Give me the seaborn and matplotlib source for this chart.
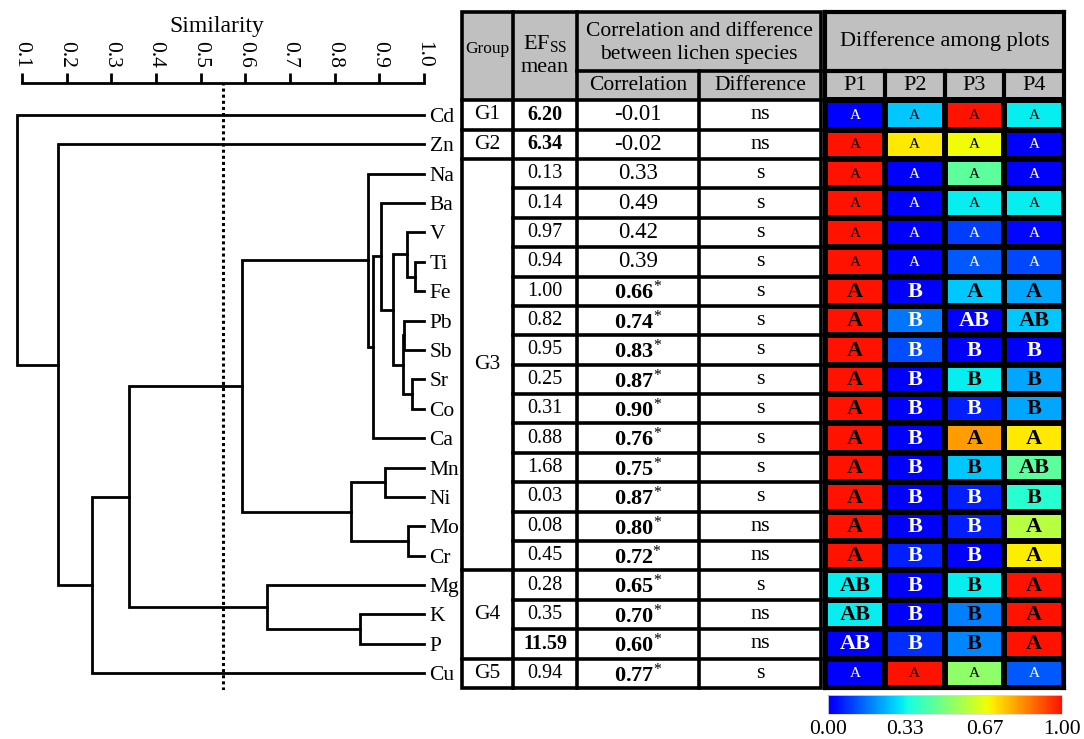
import numpy as np
import pandas as pd
import matplotlib
matplotlib.use('Agg')
import matplotlib.pyplot as plt
import seaborn as sns
from matplotlib.colors import LinearSegmentedColormap
from matplotlib.patches import Rectangle

plt.rcParams['font.family'] = ['Liberation Serif', 'DejaVu Serif']
plt.rcParams['mathtext.fontset'] = 'custom'
plt.rcParams['mathtext.rm'] = 'Liberation Serif'
plt.rcParams['mathtext.it'] = 'Liberation Serif:italic'
plt.rcParams['mathtext.bf'] = 'Liberation Serif:bold'

# ---------------- data ----------------
elements = ['Cd', 'Zn', 'Na', 'Ba', 'V', 'Ti', 'Fe', 'Pb', 'Sb', 'Sr',
            'Co', 'Ca', 'Mn', 'Ni', 'Mo', 'Cr', 'Mg', 'K', 'P', 'Cu']

# dendrogram merges (cluster ids c0, c1, ... in merge order)
merge_a = ['Ti', 'V', 'Sr', 'Pb', 'c3', 'c1', 'Ba', 'c6', 'Na', 'Mn',
           'Mo', 'c9', 'c8', 'K', 'Mg', 'c12', 'c15', 'Zn', 'Cd']
merge_b = ['Fe', 'c0', 'Co', 'Sb', 'c2', 'c4', 'c5', 'Ca', 'c7', 'Ni',
           'Cr', 'c10', 'c11', 'P', 'c13', 'c14', 'Cu', 'c16', 'c17']
merge_sim = [0.980, 0.962, 0.973, 0.955, 0.953, 0.931, 0.904, 0.886, 0.875, 0.913,
             0.964, 0.837, 0.592, 0.857, 0.648, 0.340, 0.257, 0.181, 0.089]
cut_similarity = 0.55
sim_ticks = [0.1, 0.2, 0.3, 0.4, 0.5, 0.6, 0.7, 0.8, 0.9, 1.0]

group_names = ['G1', 'G2', 'G3', 'G4', 'G5']
group_sizes = [1, 1, 14, 3, 1]
ef_mean = [6.20, 6.34, 0.13, 0.14, 0.97, 0.94, 1.00, 0.82, 0.95, 0.25,
           0.31, 0.88, 1.68, 0.03, 0.08, 0.45, 0.28, 0.35, 11.59, 0.94]
correlation = [-0.01, -0.02, 0.33, 0.49, 0.42, 0.39, 0.66, 0.74, 0.83, 0.87,
               0.90, 0.76, 0.75, 0.87, 0.80, 0.72, 0.65, 0.70, 0.60, 0.77]
corr_significant = [False] * 6 + [True] * 14
difference = ['ns', 'ns', 's', 's', 's', 's', 's', 's', 's', 's',
              's', 's', 's', 's', 'ns', 'ns', 's', 'ns', 'ns', 's']

plots = ['P1', 'P2', 'P3', 'P4']
p1_values = [0.00, 1.00, 1.00, 1.00, 1.00, 1.00, 1.00, 1.00, 1.00, 1.00,
             1.00, 1.00, 1.00, 1.00, 1.00, 1.00, 0.32, 0.32, 0.00, 0.00]
p2_values = [0.27, 0.71, 0.00, 0.00, 0.00, 0.00, 0.00, 0.17, 0.12, 0.00,
             0.01, 0.00, 0.00, 0.01, 0.01, 0.06, 0.01, 0.01, 0.08, 1.00]
p3_values = [1.00, 0.68, 0.45, 0.32, 0.10, 0.13, 0.27, 0.00, 0.00, 0.32,
             0.06, 0.81, 0.27, 0.06, 0.06, 0.00, 0.32, 0.18, 0.19, 0.53]
p4_values = [0.32, 0.00, 0.00, 0.32, 0.03, 0.11, 0.23, 0.27, 0.01, 0.23,
             0.23, 0.71, 0.45, 0.37, 0.59, 0.70, 1.00, 1.00, 1.00, 0.13]
p1_letters = ['A'] * 16 + ['AB', 'AB', 'AB', 'A']
p2_letters = ['A'] * 6 + ['B'] * 13 + ['A']
p3_letters = ['A'] * 7 + ['AB', 'B', 'B', 'B', 'A', 'B', 'B', 'B', 'B', 'B', 'B', 'B', 'A']
p4_letters = ['A'] * 7 + ['AB', 'B', 'B', 'B', 'A', 'AB', 'B', 'A', 'A', 'A', 'A', 'A', 'A']
cbar_ticks = [0.0, 0.33, 0.67, 1.0]
cbar_ticklabels = ['0.00', '0.33', '0.67', '1.00']

# ---------------- layout helpers ----------------
W, H = 1084, 739
fig = plt.figure(figsize=(W / 100, H / 100), dpi=100)


def box(x0, y0, x1, y1):
    return [x0 / W, 1 - y1 / H, (x1 - x0) / W, (y1 - y0) / H]


ROW_TOP, ROW_H = 12, 29.39
TABLE_BOTTOM = ROW_TOP + 23 * ROW_H


def row_at(py):
    return (py - ROW_TOP) / ROW_H - 3


n = len(elements)
leaf_y = {e: i + 0.5 for i, e in enumerate(elements)}

# ---------------- dendrogram ----------------
axd = fig.add_axes(box(10, 83, 424, 690))
px_per_unit = (424 - 22) / 0.9
axd.set_xlim(0.1 - 12 / px_per_unit, 1.0)
axd.set_ylim(row_at(690), row_at(83))

pos = {e: (1.0, leaf_y[e]) for e in elements}
for k, (a, b, s) in enumerate(zip(merge_a, merge_b, merge_sim)):
    xa, ya = pos[a]
    xb, yb = pos[b]
    axd.plot([xa, s, s, xb], [ya, ya, yb, yb], color='black', lw=2.0,
             solid_joinstyle='miter', clip_on=False)
    pos['c%d' % k] = (s, (ya + yb) / 2)

axd.axvline(cut_similarity, color='black', lw=2.2, ls=(0, (1, 1)))

for sp in ['left', 'right', 'bottom']:
    axd.spines[sp].set_visible(False)
axd.spines['top'].set_linewidth(2)
axd.spines['top'].set_bounds(0.1, 1.0)
axd.xaxis.tick_top()
axd.xaxis.set_label_position('top')
axd.set_xticks(sim_ticks)
axd.set_xticklabels(['%.1f' % v for v in sim_ticks], rotation=270)
axd.tick_params(axis='x', length=7, width=2, direction='out', pad=4, labelsize=15.5)
axd.set_xlabel('Similarity', fontsize=17, labelpad=6)
axd.yaxis.tick_right()
axd.set_yticks([leaf_y[e] for e in elements])
axd.set_yticklabels(elements)
axd.tick_params(axis='y', length=0, pad=4, labelsize=15.5)

# ---------------- table ----------------
axt = fig.add_axes(box(462, ROW_TOP, 821, TABLE_BOTTOM))
axt.set_xlim(0, 359)
axt.set_ylim(20, -3)
axt.axis('off')
edges = [0, 51, 115, 237, 359]
LW = 2.6
axt.add_patch(Rectangle((0, -3), 359, 3, fc='#c0c0c0', ec='none'))


def hline(y, x0, x1):
    axt.plot([x0, x1], [y, y], color='black', lw=LW, solid_capstyle='projecting', clip_on=False)


def vline(x, y0, y1):
    axt.plot([x, x], [y0, y1], color='black', lw=LW, solid_capstyle='projecting', clip_on=False)


axt.add_patch(Rectangle((0, -3), 359, 23, fill=False, ec='black', lw=LW, clip_on=False))
vline(edges[1], -3, 20)
vline(edges[2], -3, 20)
vline(edges[3], -1, 20)
hline(-1, edges[2], edges[4])
hline(0, edges[0], edges[4])
for k in range(1, n):
    hline(k, edges[1], edges[4])
start = 0
for g, sz in zip(group_names, group_sizes):
    axt.text((edges[0] + edges[1]) / 2, start + sz / 2, g, ha='center', va='center', fontsize=15.5)
    start += sz
    if start < n:
        hline(start, edges[0], edges[1])

axt.text((edges[0] + edges[1]) / 2, -1.75, 'Group', ha='center', va='center', fontsize=12.5)
axt.text((edges[1] + edges[2]) / 2, -1.55, 'EF$_{\\mathrm{SS}}$\nmean', ha='center', va='center',
         fontsize=16, linespacing=1.3)
axt.text((edges[2] + edges[4]) / 2, -1.95, 'Correlation and difference\nbetween lichen species',
         ha='center', va='center', fontsize=15.5, linespacing=1.25)
axt.text((edges[2] + edges[3]) / 2, -0.5, 'Correlation', ha='center', va='center', fontsize=15.5)
axt.text((edges[3] + edges[4]) / 2, -0.5, 'Difference', ha='center', va='center', fontsize=15.5)

for i in range(n):
    y = i + 0.5
    axt.text((edges[1] + edges[2]) / 2, y, '%.2f' % ef_mean[i], ha='center', va='center',
             fontsize=14.5, fontweight='bold' if ef_mean[i] > 5 else 'normal')
    if corr_significant[i]:
        axt.text((edges[2] + edges[3]) / 2, y + 0.05, '%.2f$^{*}$' % correlation[i], ha='center',
                 va='center', fontsize=16, fontweight='bold')
    else:
        axt.text((edges[2] + edges[3]) / 2, y, '%.2f' % correlation[i], ha='center', va='center',
                 fontsize=16.5)
    axt.text((edges[3] + edges[4]) / 2, y, difference[i], ha='center', va='center', fontsize=16)

# ---------------- heatmap ----------------
jet_segments = {
    'red': [(0.0, 0.0, 0.0), (0.35, 0.0, 0.0), (0.66, 1.0, 1.0), (0.89, 1.0, 1.0), (1.0, 0.5, 0.5)],
    'green': [(0.0, 0.0, 0.0), (0.125, 0.0, 0.0), (0.375, 1.0, 1.0), (0.64, 1.0, 1.0),
              (0.91, 0.0, 0.0), (1.0, 0.0, 0.0)],
    'blue': [(0.0, 0.5, 0.5), (0.11, 1.0, 1.0), (0.34, 1.0, 1.0), (0.65, 0.0, 0.0), (1.0, 0.0, 0.0)],
}
jet = LinearSegmentedColormap('myjet', jet_segments, N=512)
cmap = LinearSegmentedColormap.from_list('trunc_jet', jet(np.linspace(0.11, 0.89, 256)))

df = pd.DataFrame({'P1': p1_values, 'P2': p2_values, 'P3': p3_values, 'P4': p4_values},
                  index=elements)
letters = pd.DataFrame({'P1': p1_letters, 'P2': p2_letters, 'P3': p3_letters, 'P4': p4_letters},
                       index=elements)

axh = fig.add_axes(box(825, ROW_TOP, 1064, TABLE_BOTTOM))
cax = fig.add_axes(box(828, 695, 1062, 714))
sns.heatmap(df, ax=axh, cmap=cmap, vmin=0, vmax=1, linewidths=3, linecolor='black',
            xticklabels=False, yticklabels=False, cbar=True, cbar_ax=cax,
            cbar_kws={'orientation': 'horizontal', 'ticks': cbar_ticks})
axh.set_ylim(20, -3)
axh.set_xlim(0, 4)
axh.add_patch(Rectangle((0, -3), 4, 3, fc='#c0c0c0', ec='none', zorder=0.5))
axh.plot([0, 4], [-1, -1], color='black', lw=3)
for x in [1, 2, 3]:
    axh.plot([x, x], [-1, 0], color='black', lw=3)
for sp in axh.spines.values():
    sp.set_visible(True)
    sp.set_linewidth(3)
    sp.set_color('black')
axh.text(2, -2, 'Difference among plots', ha='center', va='center', fontsize=16)
for j, p in enumerate(plots):
    axh.text(j + 0.5, -0.5, p, ha='center', va='center', fontsize=16)

for i, e in enumerate(elements):
    row_letters = list(letters.loc[e])
    bold = len(set(row_letters)) > 1
    for j, p in enumerate(plots):
        v = df.loc[e, p]
        axh.text(j + 0.5, i + 0.52, letters.loc[e, p], ha='center', va='center',
                 fontsize=16 if bold else 11, fontweight='bold' if bold else 'normal',
                 color='white' if v < 0.175 else 'black')

cbar = axh.collections[0].colorbar
cbar.set_ticklabels(cbar_ticklabels)
cbar.ax.tick_params(length=0, labelsize=15.5, pad=4)
cbar.outline.set_linewidth(0.6)
cbar.outline.set_edgecolor('#d8d8e8')

fig.savefig('out.png', dpi=100)
